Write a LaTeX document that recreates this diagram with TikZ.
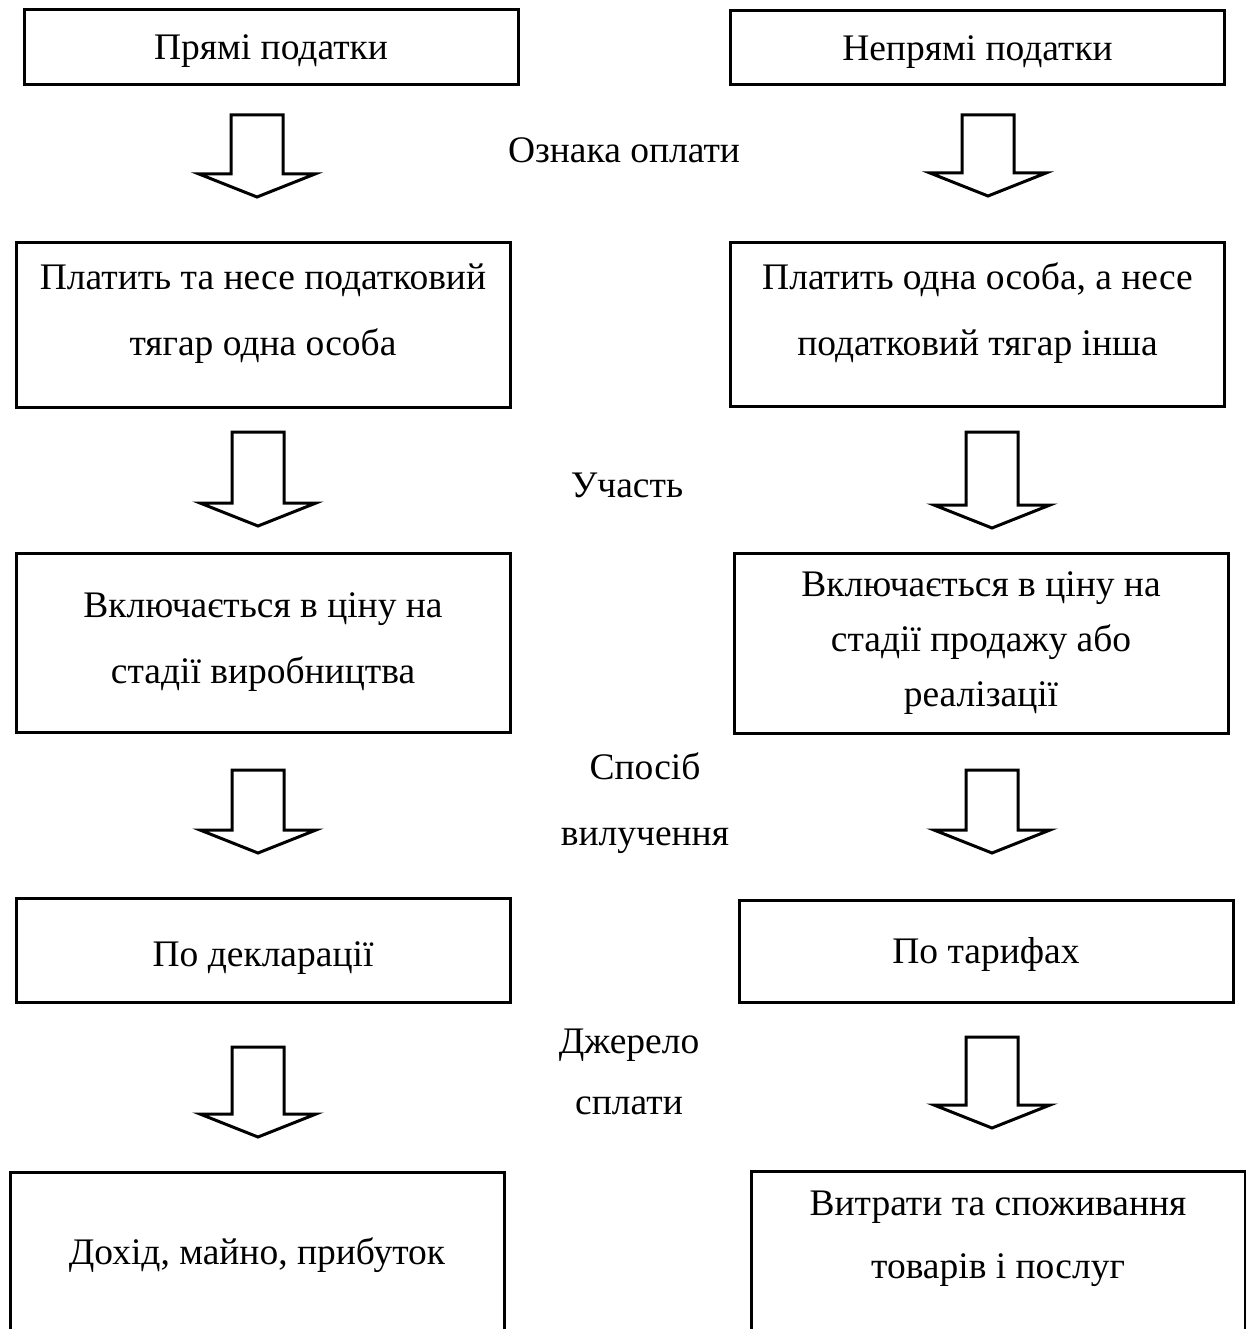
\documentclass[tikz,border=0pt]{standalone}
\usepackage{fontspec}
\setmainfont{Liberation Serif}
\usetikzlibrary{calc,positioning}

\tikzset{
  blok/.style={draw, line width=3pt, minimum width=494pt, inner sep=0pt, outer sep=0pt,
    align=center, font=\fontsize{37.5}{66}\selectfont},
  pidpys/.style={align=center, font=\fontsize{37.5}{66}\selectfont},
  pics/strilka/.style={code={
    \draw[line width=3pt, line join=miter]
      (-26,0) -- (-26,#1-23) -- (-58,#1-23) -- (0,#1) -- (58,#1-23) -- (26,#1-23) -- (26,0) -- cycle;
  }}
}

\begin{document}
\begin{tikzpicture}[x=1pt, y=-1pt]
  \clip (0,0) rectangle (1246,1329);

  % Прямі податки (ліва колонка)
  \node[blok, minimum height=75pt, text height=32pt] (pryami) at (271,47.5) {Прямі податки};
  \node[blok, minimum height=164pt, text depth=30pt] (platyt1) at (263,325) {Платить та несе податковий\\тягар одна особа};
  \node[blok, minimum height=179pt] (tsina1) at (263,642.5) {Включається в ціну на\\стадії виробництва};
  \node[blok, minimum height=104pt, text height=40pt] (deklar) at (263,950) {По декларації};
  \node[blok, minimum height=166pt] (dokhid) at (257,1255) {Дохід, майно, прибуток};

  % Непрямі податки (права колонка)
  \node[blok, minimum height=74pt, text height=32pt] (nepryami) at (977.5,48) {Непрямі податки};
  \node[blok, minimum height=163pt, text depth=30pt] (platyt2) at (977.5,324.5) {Платить одна особа, а несе\\податковий тягар інша};
  \node[blok, minimum height=180pt, font=\fontsize{37.5}{55}\selectfont] (tsina2) at (981,643) {Включається в ціну на\\стадії продажу або\\реалізації};
  \node[blok, minimum height=102pt, text height=32pt] (taryf) at (986,951) {По тарифах};
  \node[blok, minimum height=178pt] (vytraty) at (998,1260) {};
  \node[pidpys, font=\fontsize{37.5}{63}\selectfont] (vytratyt) at (998,1238.5) {Витрати та споживання\\товарів і послуг};

  % Ознаки посередині
  \node[pidpys] (oznaka) at (624,150) {Ознака оплати};
  \node[pidpys] (uchast) at (627,485) {Участь};
  \node[pidpys] (sposib) at (645,803) {Спосіб\\вилучення};
  \node[pidpys, font=\fontsize{37.5}{61}\selectfont] (dzherelo) at (629,1072) {Джерело\\сплати};

  % Стрілки
  \pic at (257,115) {strilka=82};
  \pic at (988,115) {strilka=81};
  \pic at (258,432) {strilka=94};
  \pic at (992,432) {strilka=96};
  \pic at (258,770) {strilka=83};
  \pic at (992,770) {strilka=83};
  \pic at (258,1047) {strilka=90};
  \pic at (992,1037) {strilka=91};
\end{tikzpicture}
\end{document}
